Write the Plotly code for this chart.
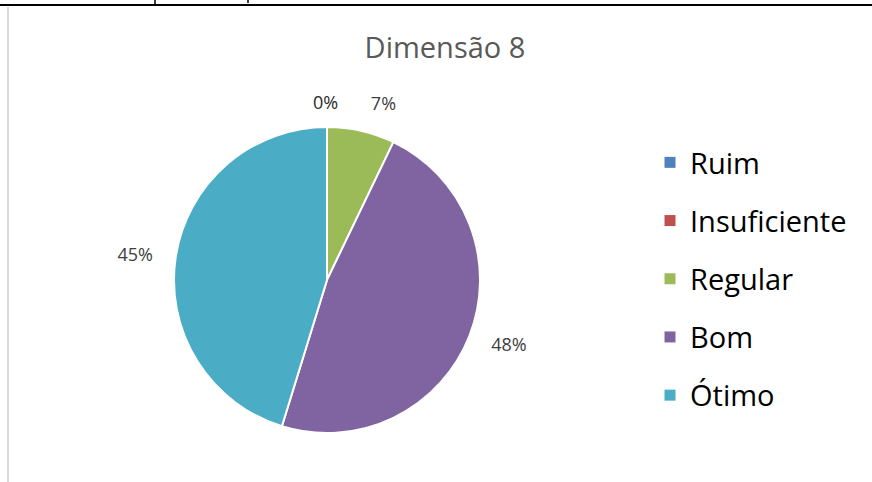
import plotly.graph_objects as go

categories = ["Ruim", "Insuficiente", "Regular", "Bom", "Ótimo"]
values = [0, 0, 3, 20, 19]
colors = ["#4F81BD", "#C0504D", "#9BBB59", "#8064A2", "#4BACC6"]
title_text = "Dimensão 8"
zero_label = "0%"

W, H = 872, 482
FONT = "Open Sans"

cx, cy, r = 327, 280, 153      # pie centre / radius in pixels
r_lab = 170                     # radius of the invisible label ring


def dom(cx, cy, r):
    return dict(x=[(cx - r) / W, (cx + r) / W], y=[1 - (cy + r) / H, 1 - (cy - r) / H])


fig = go.Figure()
fig.add_trace(go.Pie(
    labels=categories, values=values, sort=False, direction="clockwise", rotation=0,
    marker=dict(colors=colors, line=dict(color="white", width=2)),
    textinfo="none", showlegend=False, hoverinfo="label+percent",
    domain=dom(cx, cy, r),
))
# invisible ring carrying the outside percentage labels
fig.add_trace(go.Pie(
    labels=categories, values=values, sort=False, direction="clockwise", rotation=0,
    marker=dict(colors=["rgba(0,0,0,0)"] * len(values), line=dict(color="rgba(0,0,0,0)", width=0)),
    texttemplate=["" if v == 0 else "%{percent:.0%}" for v in values],
    textposition="outside",
    textfont=dict(family=FONT, size=18, color="#404040"),
    showlegend=False, hoverinfo="skip",
    domain=dom(cx, cy, r_lab),
))

for c, col in zip(categories, colors):
    fig.add_trace(go.Scatter(
        x=[None], y=[None], mode="markers", name=c, legendgroup=c,
        marker=dict(symbol="square", size=11, color=col),
    ))

fig.update_layout(
    width=W, height=H, margin=dict(l=0, r=0, t=0, b=0),
    paper_bgcolor="white", plot_bgcolor="white",
    title=dict(text=title_text, x=445 / W, xanchor="center", y=1 - 48 / H, yanchor="middle",
               font=dict(family=FONT, size=29, color="#595959")),
    xaxis=dict(visible=False), yaxis=dict(visible=False),
    legend=dict(x=650 / W, y=1 - 137 / H, xanchor="left", yanchor="top",
                font=dict(family=FONT, size=29, color="black"),
                tracegroupgap=17.5, bgcolor="rgba(0,0,0,0)"),
    annotations=[dict(text=zero_label, x=325 / W, y=1 - 102 / H, xref="paper", yref="paper",
                      xanchor="center", yanchor="middle",
                      showarrow=False, font=dict(family=FONT, size=18, color="#2a2a2a"))],
    shapes=[
        dict(type="line", xref="paper", yref="paper", x0=0, x1=1, y0=1 - 5 / H, y1=1 - 5 / H,
             line=dict(color="black", width=2)),
        dict(type="line", xref="paper", yref="paper", x0=155 / W, x1=155 / W, y0=1, y1=1 - 5 / H,
             line=dict(color="black", width=1.5)),
        dict(type="line", xref="paper", yref="paper", x0=248 / W, x1=248 / W, y0=1, y1=1 - 3 / H,
             line=dict(color="black", width=1.5)),
        dict(type="line", xref="paper", yref="paper", x0=8 / W, x1=8 / W, y0=1 - 7 / H, y1=0,
             line=dict(color="#D9D9D9", width=2)),
    ],
)

fig.write_html("out.html", config={"displayModeBar": False},
               post_script="document.body.style.margin='0';document.body.style.overflow='hidden';")
